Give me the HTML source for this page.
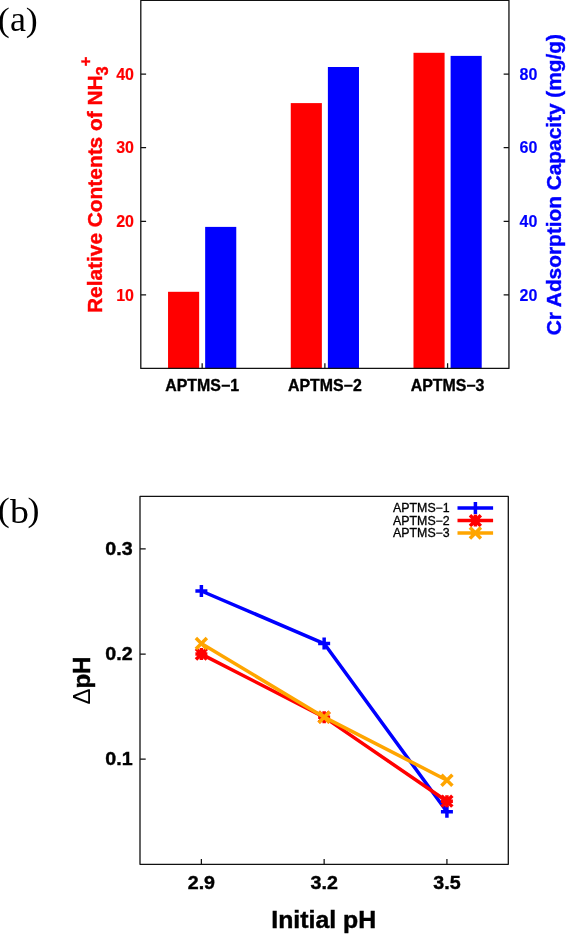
<!DOCTYPE html>
<html>
<head>
<meta charset="utf-8">
<style>
html,body{margin:0;padding:0;background:#fff;}
body{width:566px;height:934px;overflow:hidden;position:relative;}
svg{position:absolute;left:0;top:0;display:block;will-change:transform;}
text{font-family:"Liberation Sans",sans-serif;}
.ser,.ser text{font-family:"Liberation Serif",serif;}
.b,.b text{font-weight:bold;}
</style>
</head>
<body>
<svg width="566" height="934" viewBox="0 0 566 934">
<rect x="0" y="0" width="566" height="934" fill="#fff"/>

<!-- ================= panel (a) ================= -->
<g class="ser" font-size="35" fill="#000">
<text transform="translate(-2.25,31.05) scale(1.03,0.95)">(</text>
<text transform="translate(9.95,31.3) scale(1.03,1)">a</text>
<text transform="translate(25.8,31.05) scale(1.03,0.95)">)</text>
</g>

<!-- bars -->
<g>
<rect x="168.04" y="291.8" width="31.11" height="76.65" fill="#ff0000"/>
<rect x="205.16" y="226.9" width="31.11" height="141.55" fill="#0000ff"/>
<rect x="290.76" y="103.1" width="31.11" height="265.35" fill="#ff0000"/>
<rect x="327.88" y="67.0" width="31.11" height="301.45" fill="#0000ff"/>
<rect x="413.48" y="52.8" width="31.11" height="315.65" fill="#ff0000"/>
<rect x="450.60" y="55.9" width="31.11" height="312.55" fill="#0000ff"/>
</g>

<!-- frame -->
<g stroke="#111" stroke-width="1.3" fill="none" stroke-linejoin="round">
<rect x="140.8" y="0.45" width="368.15" height="368.00"/>
<path stroke-width="1.25" d="M140.8 294.85h5.3M140.8 221.25h5.3M140.8 147.65h5.3M140.8 74.05h5.3"/>
<path stroke-width="1.25" d="M508.95 294.85h-5.3M508.95 221.25h-5.3M508.95 147.65h-5.3M508.95 74.05h-5.3"/>
<path stroke-width="1.25" d="M202.16 368.45v-5.3M324.88 368.45v-5.3M447.59 368.45v-5.3"/>
</g>

<!-- left tick labels -->
<g class="b" font-size="16" fill="#ff0000" stroke="#ff0000" stroke-width="0.15" text-anchor="end">
<text x="134" y="300.55">10</text>
<text x="134" y="226.95">20</text>
<text x="134" y="153.35">30</text>
<text x="134" y="79.75">40</text>
</g>
<!-- right tick labels -->
<g class="b" font-size="16" fill="#0000ff" stroke="#0000ff" stroke-width="0.15" text-anchor="start">
<text x="519.6" y="300.55">20</text>
<text x="519.6" y="226.95">40</text>
<text x="519.6" y="153.35">60</text>
<text x="519.6" y="79.75">80</text>
</g>
<!-- x tick labels -->
<g class="b" font-size="15.9" fill="#000" stroke="#000" stroke-width="0.35" text-anchor="middle">
<text x="202.16" y="391.0">APTMS−1</text>
<text x="324.88" y="391.0">APTMS−2</text>
<text x="447.59" y="391.0">APTMS−3</text>
</g>

<!-- left axis label -->
<g transform="translate(101.5,313.0) rotate(-90)">
<text class="b" x="0" y="0" font-size="20.87" fill="#ff0000" stroke="#ff0000" stroke-width="0.4">Relative Contents of NH<tspan font-size="16.4" dy="6.3">3</tspan><tspan font-size="16.8" dy="-17">+</tspan></text>
</g>
<!-- right axis label -->
<g transform="translate(561.3,335.3) rotate(-90)">
<text class="b" x="0" y="0" font-size="20.84" fill="#0000ff" stroke="#0000ff" stroke-width="0.4">Cr Adsorption Capacity (mg/g)</text>
</g>

<!-- ================= panel (b) ================= -->
<g class="ser" font-size="35" fill="#000">
<text transform="translate(-2.25,521.3) scale(1.03,0.95)">(</text>
<text transform="translate(9.9,522.8) scale(1.08,0.968)">b</text>
<text transform="translate(27.4,521.3) scale(1.03,0.95)">)</text>
</g>

<!-- frame -->
<g stroke="#111" stroke-width="1.3" fill="none" stroke-linejoin="round">
<rect x="140.0" y="496.4" width="368.30" height="367.90"/>
<path stroke-width="1.25" d="M140.0 759.19h5.7M140.0 654.07h5.7M140.0 548.96h5.7"/>
<path stroke-width="1.25" d="M201.38 864.3v-5.3M324.15 864.3v-5.3M446.92 864.3v-5.3"/>
</g>

<!-- y tick labels -->
<g class="b" font-size="19" fill="#000" stroke="#000" stroke-width="0.4" text-anchor="end">
<text transform="translate(132.6,765.39) scale(1.035,1)">0.1</text>
<text transform="translate(132.6,660.27) scale(1.035,1)">0.2</text>
<text transform="translate(132.6,555.16) scale(1.035,1)">0.3</text>
</g>
<!-- x tick labels -->
<g class="b" font-size="19" fill="#000" stroke="#000" stroke-width="0.4" text-anchor="middle">
<text transform="translate(201.38,889.4) scale(1.035,1)">2.9</text>
<text transform="translate(324.15,889.4) scale(1.035,1)">3.2</text>
<text transform="translate(446.92,889.4) scale(1.035,1)">3.5</text>
</g>
<!-- axis labels -->
<text class="b" transform="translate(323.7,927.5) scale(1.035,1)" x="0" y="0" font-size="24" fill="#000" stroke="#000" stroke-width="0.45" text-anchor="middle">Initial pH</text>
<g transform="translate(89.9,704.6) rotate(-90)">
<text x="0" y="0" font-size="24" fill="#000"><tspan font-weight="normal">Δ</tspan><tspan font-weight="bold" stroke="#000" stroke-width="0.45">pH</tspan></text>
</g>

<!-- series -->
<g fill="none" stroke-width="3.5" stroke-linejoin="round">
<g stroke="#0000ff"><path d="M201.38 591.00L324.15 643.56L446.92 811.74"/><path d="M195.38 591.00h12.0M201.38 585.00v12.0M318.15 643.56h12.0M324.15 637.56v12.0M440.92 811.74h12.0M446.92 805.74v12.0"/></g>
<g stroke="#ff0000"><path d="M201.38 654.07L324.15 717.14L446.92 801.23"/><path d="M195.38 654.07h12.0M201.38 648.07v12.0M195.98 648.67l10.8 10.8M195.98 659.47l10.8 -10.8M318.15 717.14h12.0M324.15 711.14v12.0M318.75 711.74l10.8 10.8M318.75 722.54l10.8 -10.8M440.92 801.23h12.0M446.92 795.23v12.0M441.52 795.83l10.8 10.8M441.52 806.63l10.8 -10.8"/></g>
<g stroke="#ffa500"><path d="M201.38 643.56L324.15 717.14L446.92 780.21"/><path d="M195.88 638.06l11.0 11.0M195.88 649.06l11.0 -11.0M318.65 711.64l11.0 11.0M318.65 722.64l11.0 -11.0M441.42 774.71l11.0 11.0M441.42 785.71l11.0 -11.0"/></g>
</g>

<!-- legend -->
<g font-size="12" fill="#000" stroke="#000" stroke-width="0.3" text-anchor="end">
<text transform="translate(449.7,512.0) scale(1.03,1)">APTMS−1</text>
<text transform="translate(449.7,524.5) scale(1.03,1)">APTMS−2</text>
<text transform="translate(449.7,536.9) scale(1.03,1)">APTMS−3</text>
</g>
<g fill="none" stroke-width="3.5">
<g stroke="#0000ff"><path d="M457.5 508.1H493.1M469.40 508.10h12.0M475.40 502.10v12.0"/></g>
<g stroke="#ff0000"><path d="M457.5 520.6H493.1M469.40 520.60h12.0M475.40 514.60v12.0M470.00 515.20l10.8 10.8M470.00 526.00l10.8 -10.8"/></g>
<g stroke="#ffa500"><path d="M457.5 533.1H493.1M469.90 527.60l11.0 11.0M469.90 538.60l11.0 -11.0"/></g>
</g>
</svg>
</body>
</html>
